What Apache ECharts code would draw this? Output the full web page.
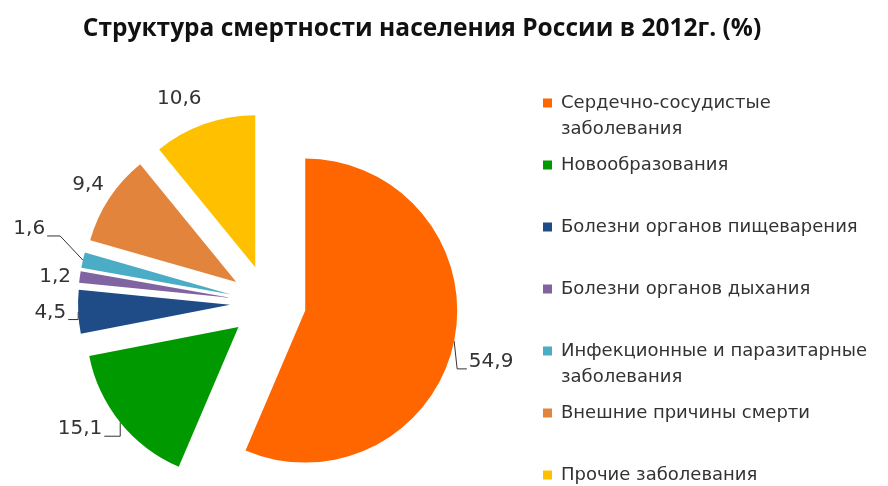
<!DOCTYPE html>
<html>
<head>
<meta charset="utf-8">
<script src="https://cdn.jsdelivr.net/npm/echarts@6/dist/echarts.min.js"></script>
<style>
  html, body { margin: 0; padding: 0; background: #ffffff; }
  #chart { width: 888px; height: 486px; }
</style>
</head>
<body>
<div id="chart"></div>
<script>
// Causes of death, Russia 2012 (% of total)
const causes = [
  'Сердечно-сосудистые заболевания',
  'Новообразования',
  'Болезни органов пищеварения',
  'Болезни органов дыхания',
  'Инфекционные и паразитарные заболевания',
  'Внешние причины смерти',
  'Прочие заболевания'
];
const shares = [54.9, 15.1, 4.5, 1.2, 1.6, 9.4, 10.6];

// Legend text as it wraps in the legend column
const legendLabels = [
  'Сердечно-сосудистые\nзаболевания',
  'Новообразования',
  'Болезни органов пищеварения',
  'Болезни органов дыхания',
  'Инфекционные и паразитарные\nзаболевания',
  'Внешние причины смерти',
  'Прочие заболевания'
];

const palette = ['#FF6600', '#009900', '#1F4B86', '#8064A2', '#4BACC6', '#E2843C', '#FFC000'];

// leader line style per slice: 'elbow' = out of the slice then along the label's
// baseline, 'slant' = diagonal to a short baseline stub, null = no line
const leaderStyle = ['elbow', 'elbow', 'elbow', null, 'slant', null, null];
// small per-label nudges [dx, dy] away from the default outside placement
const labelNudge = [[-12, 18], [6, -2], [10, 0], [14, -6], [-16, -28], [15, -6], [15, -12]];

const LINE = 26;
const FONT = '"DejaVu Sans", "Noto Sans", sans-serif';
const TITLE_FONT = '"Open Sans", "Noto Sans", sans-serif';

const pieData = causes.map((name, i) => ({
  name: name,
  value: shares[i],
  selected: true,
  labelLine: { show: leaderStyle[i] !== null }
}));

// every legend row is three lines tall (blank lines around single-line names,
// one blank line above wrapped names) so rows are evenly spaced and the icon
// sits level with the first text line
function legendText(name) {
  const s = legendLabels[causes.indexOf(name)];
  return s.indexOf('\n') >= 0 ? '\n' + s : '\n' + s + '\n';
}

function placeLabel(params) {
  const i = params.dataIndex;
  const n = labelNudge[i];
  const out = { dx: n[0], dy: n[1] };
  const pts = params.labelLinePoints;
  if (leaderStyle[i] && pts && pts.length) {
    const r = params.labelRect;
    const onLeft = params.align === 'right' || (r.x + r.width / 2) < pts[0][0];
    const rx = r.x + n[0];
    const ry = r.y + n[1];
    const base = ry + r.height / 2 + 7;
    const end = onLeft ? rx + r.width + 2 : rx - 2;
    const p0 = pts[0];
    let p1;
    if (leaderStyle[i] === 'elbow') {
      p1 = [p0[0] + (onLeft ? 0 : 3), base];
    } else {
      p1 = [end + (onLeft ? 13 : -13), base];
    }
    out.labelLinePoints = [p0, p1, [end, base]];
  }
  return out;
}

const chart = echarts.init(document.getElementById('chart'), null, { renderer: 'canvas' });
chart.setOption({
  animation: false,
  color: palette,
  title: {
    text: 'Структура смертности населения России в 2012г. (%)',
    left: 417,
    textAlign: 'center',
    top: 12,
    textStyle: { fontFamily: TITLE_FONT, fontSize: 24.5, fontWeight: 'bold', color: '#111111' }
  },
  legend: {
    orient: 'vertical',
    left: 543,
    top: 64,
    height: 520,
    padding: 0,
    itemGap: -16,
    itemWidth: 9,
    itemHeight: 9,
    icon: 'rect',
    selectedMode: false,
    data: causes,
    formatter: legendText,
    textStyle: { fontFamily: FONT, fontSize: 18, color: '#333333', lineHeight: LINE, padding: [0, 0, 0, 4] }
  },
  series: [{
    type: 'pie',
    center: [268, 303],
    radius: 152,
    startAngle: 90,
    clockwise: true,
    selectedMode: 'multiple',
    selectedOffset: 38,
    silent: true,
    avoidLabelOverlap: true,
    itemStyle: { borderWidth: 0 },
    emphasis: { disabled: true },
    label: {
      show: true,
      position: 'outside',
      fontFamily: FONT,
      fontSize: 20,
      color: '#333333',
      formatter: function (p) { return p.value.toFixed(1).replace('.', ','); }
    },
    labelLine: {
      show: false,
      length: 14,
      length2: 8,
      lineStyle: { color: '#333333', width: 1 }
    },
    labelLayout: placeLabel,
    data: pieData
  }]
});
</script>
</body>
</html>
